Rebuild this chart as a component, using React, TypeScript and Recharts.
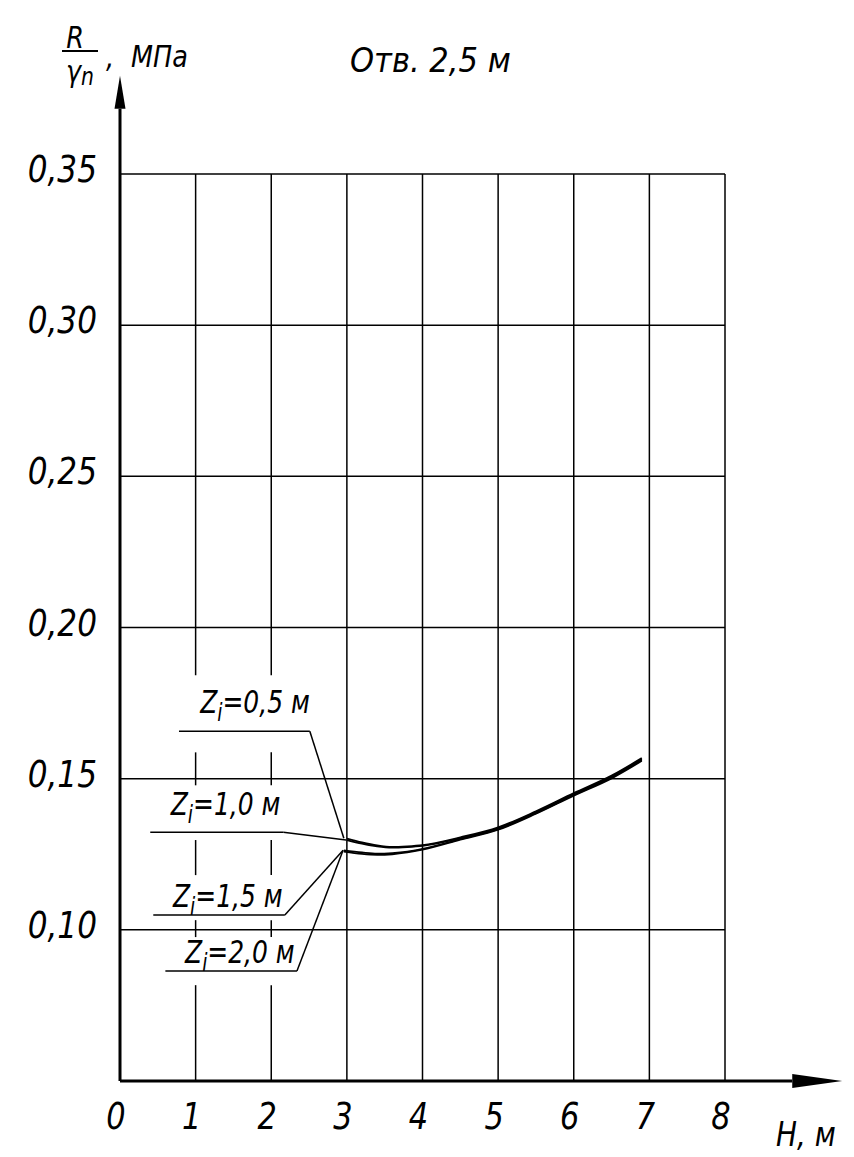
import React from "react";
import { LineChart, Line, XAxis, YAxis, CartesianGrid, ReferenceLine, ReferenceDot } from "recharts";

// H, м and R/γn, МПа read from the sheet
const hUpper = [3.0, 3.2, 3.4, 3.6, 3.8, 4.0, 4.5, 5.0, 5.5, 6.0, 6.5, 6.9];
const rZ05 = [0.1302, 0.1289, 0.1279, 0.1274, 0.1276, 0.128, 0.1306, 0.1339, 0.1392, 0.1452, 0.151, 0.1568];
const rZ10 = [0.1297, 0.1285, 0.1276, 0.1272, 0.1274, 0.1278, 0.1303, 0.1336, 0.1389, 0.1449, 0.1507, 0.1565];
const hLower = [2.96, 3.2, 3.4, 3.6, 3.8, 4.0, 4.5, 5.0, 5.5, 6.0, 6.5, 6.9];
const rZ15 = [0.1263, 0.1256, 0.1252, 0.1254, 0.1259, 0.1268, 0.13, 0.1333, 0.1386, 0.1446, 0.1504, 0.1562];
const rZ20 = [0.1259, 0.1251, 0.1248, 0.125, 0.1256, 0.1265, 0.1298, 0.1331, 0.1384, 0.1444, 0.1501, 0.1559];

const xTicks = [0, 1, 2, 3, 4, 5, 6, 7, 8];
const yTicks = [0.1, 0.15, 0.2, 0.25, 0.3, 0.35];

// Z labels with leader lines (data coordinates)
const zLabels = ["0,5", "1,0", "1,5", "2,0"];
const labelAnchors = [
  [1.06, 0.1716],
  [0.67, 0.1379],
  [0.7, 0.1075],
  [0.86, 0.089],
];
const leaderPaths = [
  [[0.78, 0.1657], [2.51, 0.1657], [2.96, 0.1303]],
  [[0.4, 0.1323], [2.16, 0.1323], [2.99, 0.1297]],
  [[0.44, 0.1049], [2.18, 0.1049], [2.95, 0.1263]],
  [[0.6, 0.0864], [2.34, 0.0864], [2.95, 0.1263]],
];
// grid lines at H=1 and H=2 are broken behind the labels
const brokenGridSegments = [
  [0.05, 0.0817],
  [0.0976, 0.1032],
  [0.1181, 0.1297],
  [0.1478, 0.1587],
  [0.1842, 0.35],
];

const toSeries = (h: number[], r: number[]) => h.map((v, i) => ({ h: v, r: r[i] }));
const series = [
  toSeries(hUpper, rZ05),
  toSeries(hUpper, rZ10),
  toSeries(hLower, rZ15),
  toSeries(hLower, rZ20),
];

const FONT = "'DejaVu Sans', sans-serif";

// narrow italic text, squeezed horizontally like the drafting font
const Narrow = ({ x, y, sx, size, anchor, children }: any) => (
  <g transform={`translate(${x},${y}) scale(${sx},1)`}>
    <text x={0} y={0} textAnchor={anchor || "start"} fontFamily={FONT} fontStyle="italic" fontSize={size} fill="#000">
      {children}
    </text>
  </g>
);

const XTick = (props: any) => {
  const { x, y, payload } = props;
  return (
    <Narrow x={x - 4} y={y + 48} sx={0.8} size={38} anchor="middle">
      {String(payload.value)}
    </Narrow>
  );
};

const YTick = (props: any) => {
  const { x, y, payload } = props;
  return (
    <Narrow x={x} y={y + 8} sx={0.82} size={38} anchor="end">
      {payload.value.toFixed(2).replace(".", ",")}
    </Narrow>
  );
};

const arrowShape = (headLen: number, half: number) => (props: any) => {
  const { x1, y1, x2, y2 } = props;
  const dx = x2 - x1;
  const dy = y2 - y1;
  const len = Math.hypot(dx, dy) || 1;
  const ux = dx / len;
  const uy = dy / len;
  const bx = x2 - ux * headLen;
  const by = y2 - uy * headLen;
  const px = -uy * half;
  const py = ux * half;
  return (
    <g>
      <line x1={x1} y1={y1} x2={bx} y2={by} stroke="#000" strokeWidth={3} />
      <polygon points={`${x2},${y2} ${bx + px},${by + py} ${bx - px},${by - py}`} fill="#000" />
    </g>
  );
};

const zLabelShape = (val: string) => (props: any) => (
  <Narrow x={props.cx} y={props.cy} sx={0.78} size={32}>
    <tspan>Z</tspan>
    <tspan dy={8} fontSize={24}>i</tspan>
    <tspan dy={-8}>{`=${val} м`}</tspan>
  </Narrow>
);

export default function App() {
  return (
    <div style={{ position: "absolute", left: 0, top: 0, width: 854, height: 1157, background: "#fff" }}>
      <LineChart width={854} height={1157} margin={{ top: 174, right: 129, bottom: 46, left: 60 }}>
        <CartesianGrid vertical={false} stroke="#000" strokeWidth={1.5} />
        <XAxis
          type="number"
          dataKey="h"
          domain={[0, 8]}
          ticks={xTicks}
          axisLine={false}
          tickLine={false}
          tickSize={0}
          tickMargin={0}
          height={30}
          tick={<XTick />}
          allowDataOverflow
        />
        <YAxis
          type="number"
          dataKey="r"
          domain={[0.05, 0.35]}
          ticks={yTicks}
          axisLine={false}
          tickLine={false}
          tickSize={0}
          tickMargin={23}
          width={60}
          tick={<YTick />}
          allowDataOverflow
        />
        {xTicks
          .filter((t) => t >= 3)
          .map((t) => (
            <ReferenceLine key={`v${t}`} x={t} stroke="#000" strokeWidth={1.5} />
          ))}
        {[1, 2].map((t) =>
          brokenGridSegments.map(([a, b], i) => (
            <ReferenceLine
              key={`g${t}-${i}`}
              segment={[
                { x: t, y: a },
                { x: t, y: b },
              ]}
              stroke="#000"
              strokeWidth={1.5}
            />
          ))
        )}
        {leaderPaths.map((path, k) =>
          path.slice(1).map((p, i) => (
            <ReferenceLine
              key={`l${k}-${i}`}
              segment={[
                { x: path[i][0], y: path[i][1] },
                { x: p[0], y: p[1] },
              ]}
              stroke="#000"
              strokeWidth={1.5}
            />
          ))
        )}
        {series.map((d, i) => (
          <Line
            key={`s${i}`}
            data={d}
            dataKey="r"
            type="monotone"
            stroke="#000"
            strokeWidth={1.8}
            dot={false}
            isAnimationActive={false}
          />
        ))}
        {zLabels.map((z, i) => (
          <ReferenceDot key={`z${i}`} x={labelAnchors[i][0]} y={labelAnchors[i][1]} r={0} shape={zLabelShape(z)} />
        ))}
        <ReferenceLine
          segment={[
            { x: 0, y: 0.05 },
            { x: 0, y: 0.3825 },
          ]}
          ifOverflow="visible"
          shape={arrowShape(33, 5.5)}
        />
        <ReferenceLine
          segment={[
            { x: 0, y: 0.05 },
            { x: 9.55, y: 0.05 },
          ]}
          ifOverflow="visible"
          shape={arrowShape(50, 7)}
        />
      </LineChart>
      <svg
        width={854}
        height={1157}
        style={{ position: "absolute", left: 0, top: 0, pointerEvents: "none" }}
      >
        <Narrow x={75} y={48} sx={0.85} size={30} anchor="middle">R</Narrow>
        <line x1={62} y1={51} x2={98} y2={51} stroke="#000" strokeWidth={2} />
        <Narrow x={80} y={82} sx={0.85} size={30} anchor="middle">
          <tspan>γ</tspan>
          <tspan fontSize={24} dy={3}>n</tspan>
        </Narrow>
        <Narrow x={106} y={67} sx={0.85} size={30}>,</Narrow>
        <Narrow x={131} y={67} sx={0.85} size={30}>МПа</Narrow>
        <Narrow x={350} y={72} sx={0.9} size={34}>Отв. 2,5 м</Narrow>
        <Narrow x={776} y={1146} sx={0.82} size={34}>H, м</Narrow>
      </svg>
    </div>
  );
}
